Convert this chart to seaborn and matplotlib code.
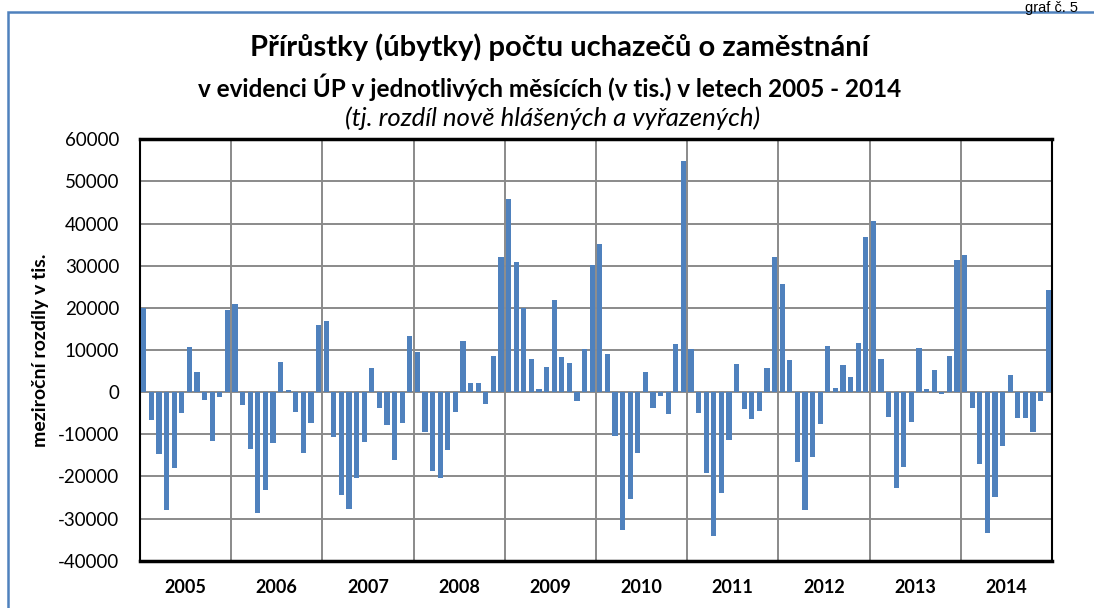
import matplotlib
matplotlib.use("Agg")
import matplotlib.pyplot as plt
import seaborn as sns
import pandas as pd
import numpy as np
from matplotlib.patches import Rectangle
from matplotlib.ticker import FixedLocator, NullFormatter

years = ["2005", "2006", "2007", "2008", "2009", "2010", "2011", "2012", "2013", "2014"]
months = ["01", "02", "03", "04", "05", "06", "07", "08", "09", "10", "11", "12"]

v2005 = [19900, -6650, -14570, -27870, -17970, -4900, 10600, 4830, -1900, -11560, -1100, 19560]
v2006 = [20820, -3090, -13380, -28660, -23120, -11960, 7130, 480, -4670, -14490, -7280, 15990]
v2007 = [16860, -10690, -24310, -27630, -20350, -11800, 5780, -3880, -7760, -16150, -7360, 13380]
v2008 = [9580, -9500, -18760, -20270, -13620, -4670, 12110, 2140, 2140, -2770, 8550, 31990]
v2009 = [45840, 30800, 19870, 7760, 790, 5940, 21770, 8310, 6970, -2060, 10130, 30170]
v2010 = [35080, 8950, -10370, -32780, -25420, -14330, 4670, -3880, -1030, -5300, 11400, 54950]
v2011 = [10210, -4990, -19160, -34050, -23990, -11240, 6730, -4040, -6410, -4510, 5700, 31990]
v2012 = [25650, 7600, -16550, -27870, -15280, -7600, 10930, 1030, 6410, 3480, 11720, 36820]
v2013 = [40540, 7840, -5940, -22640, -17810, -7050, 10530, 630, 5230, -400, 8550, 31430]
v2014 = [32460, -3880, -17100, -33490, -24940, -12750, 4120, -6180, -6180, -9420, -2140, 24310]

series = [v2005, v2006, v2007, v2008, v2009, v2010, v2011, v2012, v2013, v2014]
labels = [f"{y}-{m}" for y in years for m in months]
values = [v for s in series for v in s]
df = pd.DataFrame({"mesic": labels, "hodnota": values})

sns.set_theme(style="white")
plt.rcParams["font.family"] = ["Lato", "DejaVu Sans"]
plt.rcParams["text.color"] = "black"
plt.rcParams["xtick.color"] = "black"
plt.rcParams["ytick.color"] = "black"
plt.rcParams["axes.labelcolor"] = "black"

fig = plt.figure(figsize=(10.94, 6.08), dpi=100)
ax = fig.add_axes([140/1094, 1-560.7/608, (1052-140)/1094, (560.7-139.3)/608])

sns.barplot(data=df, x="mesic", y="hodnota", color="#4F81BD", saturation=1,
            width=0.66, linewidth=0, ax=ax, zorder=3)

n = len(labels)
ax.set_xlim(-0.5, n-0.5)
ax.set_ylim(-40000, 60000)
yt = np.arange(-40000, 60001, 10000)
ax.set_yticks(yt)
ax.set_yticklabels([str(int(t)) for t in yt], fontsize=13.5)
ax.yaxis.grid(True, color="#8a8a8a", linewidth=1.4, zorder=0)
ax.set_axisbelow(True)

centers = [i*12 + 5.5 for i in range(len(years))]
ax.set_xticks(centers)
ax.set_xticklabels(years, fontsize=13, fontweight="bold")
ax.xaxis.set_minor_locator(FixedLocator([i*12 - 0.5 for i in range(1, len(years))]))
ax.xaxis.set_minor_formatter(NullFormatter())
ax.xaxis.grid(True, which="minor", color="#8a8a8a", linewidth=1.4, zorder=0)
ax.xaxis.grid(False, which="major")
ax.tick_params(axis="both", which="both", length=0)
ax.tick_params(axis="x", pad=13)
ax.tick_params(axis="y", pad=15)
ax.set_xlabel("")
ax.set_ylabel("meziroční rozdíly v tis.", fontsize=14, fontweight="bold", labelpad=6)

for side in ["top", "bottom"]:
    ax.spines[side].set_color("black")
    ax.spines[side].set_linewidth(2.5)
for side in ["left", "right"]:
    ax.spines[side].set_color("black")
    ax.spines[side].set_linewidth(1.5)

fig.text(0.511, 1-47/608, "Přírůstky (úbytky) počtu uchazečů o zaměstnání",
         ha="center", va="center", fontsize=21, fontweight="bold")
fig.text(0.502, 1-87/608, "v evidenci ÚP v jednotlivých měsících (v tis.) v letech 2005 - 2014",
         ha="center", va="center", fontsize=17.5, fontweight="bold")
fig.text(0.505, 1-118/608, "(tj. rozdíl nově hlášených a vyřazených)",
         ha="center", va="center", fontsize=18.5, fontstyle="italic")

fig.text(0.985, 1-1/608, "graf č. 5", ha="right", va="top", fontsize=10.5,
         family=["Liberation Sans", "DejaVu Sans"])

fig.patches.append(Rectangle((8/1094, -0.1), 1.2, 1.1 - 12/608, transform=fig.transFigure,
                             fill=False, edgecolor="#4F81BD", linewidth=1.8))

fig.savefig("out.png", dpi=100)
